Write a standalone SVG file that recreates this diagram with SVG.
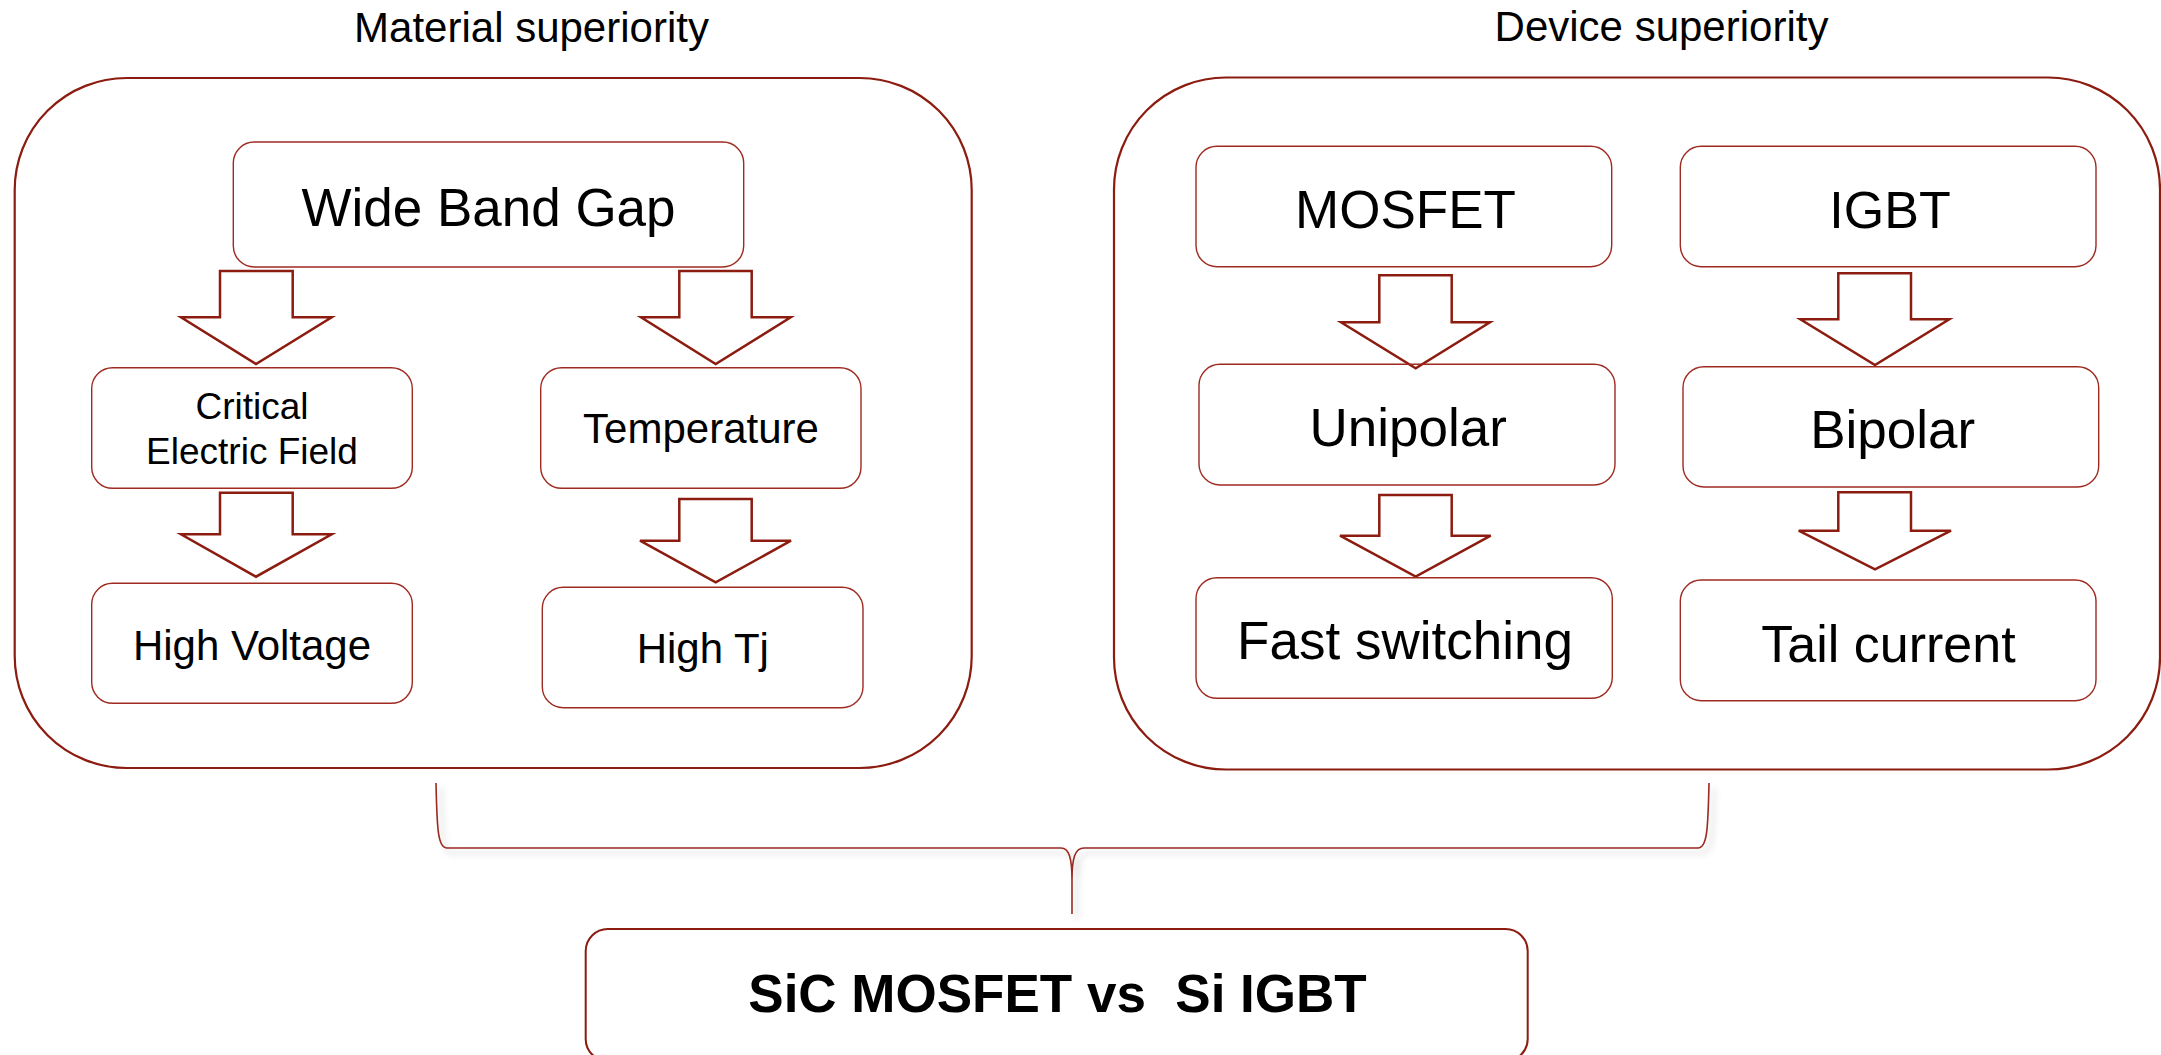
<svg xmlns="http://www.w3.org/2000/svg" width="2161" height="1055" viewBox="0 0 2161 1055">
<defs>
<style>
.t{font-family:"Liberation Sans",Arial,sans-serif;fill:#000;text-anchor:middle}
.big{fill:#fff;stroke:#8C1C10;stroke-width:2.2}
.box{fill:none;stroke:#9E2A20;stroke-width:1.4}
.arr{fill:#fff;stroke:#8C1C10;stroke-width:2.5;stroke-linejoin:miter}
.brace{fill:none;stroke:#9A2A20;stroke-width:1.6}
</style>
<filter id="sh" x="-5%" y="-20%" width="110%" height="150%">
<feDropShadow dx="5" dy="5" stdDeviation="3" flood-color="#000" flood-opacity="0.22"/>
</filter>
</defs>
<rect width="2161" height="1055" fill="#fff"/>

<g id="title-material"><text class="t" x="531.5" y="41.5" font-size="42">Material superiority</text></g>
<g id="title-device"><text class="t" x="1661.5" y="41" font-size="42">Device superiority</text></g>

<g id="group-material"><rect class="big" x="14.7" y="78" width="957" height="690" rx="112" ry="112"/></g>
<g id="group-device"><rect class="big" x="1114" y="77.5" width="1046" height="692" rx="112" ry="112"/></g>

<g id="connectors">
<polygon class="arr" points="220,271 292.7,271 292.7,317.3 331.7,317.3 256,364 181,317.3 220,317.3"/>
<polygon class="arr" points="220,492.7 292.7,492.7 292.7,534.3 331.7,534.3 256,576.7 181,534.3 220,534.3"/>
<polygon class="arr" points="679.3,271 751.7,271 751.7,317.3 790.7,317.3 715.7,364 641,317.3 679.3,317.3"/>
<polygon class="arr" points="679.3,499 751.7,499 751.7,540.7 791,540.7 715.7,582.3 640,540.7 679.3,540.7"/>
<polygon class="arr" points="1379.3,275.3 1451.7,275.3 1451.7,322.3 1490,322.3 1415.7,368.3 1341,322.3 1379.3,322.3"/>
<polygon class="arr" points="1379.3,495 1451.7,495 1451.7,535.7 1490.7,535.7 1415.7,576.7 1340,535.7 1379.3,535.7"/>
<polygon class="arr" points="1838.3,273.3 1911,273.3 1911,319.3 1949.3,319.3 1875,365 1800.3,319.3 1838.3,319.3"/>
<polygon class="arr" points="1838.3,492.3 1911,492.3 1911,530.7 1951,530.7 1875,569.3 1798.7,530.7 1838.3,530.7"/>
<path class="brace" filter="url(#sh)" d="M436,783 C437,830 438,848 447,848 L1061,848 C1069,848 1072,858 1072,880 L1072,914 M1709,783 C1708,830 1707,848 1698,848 L1084,848 C1075,848 1072,858 1072,880"/>
</g>

<g id="node-wbg"><rect class="box" x="233.3" y="142" width="510.4" height="125" rx="21"/><text class="t" x="488.5" y="226" font-size="53">Wide Band Gap</text></g>
<g id="node-critical"><rect class="box" x="91.7" y="367.7" width="320.6" height="120.6" rx="21"/><text class="t" x="252" y="419.3" font-size="37">Critical</text><text class="t" x="252" y="464.3" font-size="37">Electric Field</text></g>
<g id="node-highvoltage"><rect class="box" x="91.7" y="583.3" width="320.6" height="120" rx="21"/><text class="t" x="252" y="660" font-size="42">High Voltage</text></g>
<g id="node-temperature"><rect class="box" x="540.7" y="367.7" width="320.3" height="120.6" rx="21"/><text class="t" x="701" y="443.3" font-size="42">Temperature</text></g>
<g id="node-hightj"><rect class="box" x="542.3" y="587.3" width="320.7" height="120.4" rx="21"/><text class="t" x="702.8" y="663.3" font-size="42">High Tj</text></g>
<g id="node-mosfet"><rect class="box" x="1196" y="146.3" width="415.7" height="120.4" rx="21"/><text class="t" x="1405.5" y="228.3" font-size="53">MOSFET</text></g>
<g id="node-igbt"><rect class="box" x="1680.3" y="146.3" width="415.7" height="120.4" rx="21"/><text class="t" x="1890" y="228.3" font-size="52">IGBT</text></g>
<g id="node-unipolar"><rect class="box" x="1199" y="364.3" width="416" height="120.7" rx="21"/><text class="t" x="1408.3" y="445.7" font-size="53">Unipolar</text></g>
<g id="node-bipolar"><rect class="box" x="1683" y="366.7" width="415.7" height="120.3" rx="21"/><text class="t" x="1892.7" y="448.3" font-size="53">Bipolar</text></g>
<g id="node-fast"><rect class="box" x="1196" y="577.7" width="416.3" height="120.6" rx="21"/><text class="t" x="1405" y="659.3" font-size="53">Fast switching</text></g>
<g id="node-tail"><rect class="box" x="1680.3" y="580" width="415.7" height="120.7" rx="21"/><text class="t" x="1888.5" y="662.3" font-size="52">Tail current</text></g>
<g id="node-result"><rect x="585.7" y="929" width="942" height="132" rx="22" fill="none" stroke="#8C1C10" stroke-width="2"/><text class="t" x="1057.5" y="1012.3" font-size="53" font-weight="bold" xml:space="preserve">SiC MOSFET vs  Si IGBT</text></g>
</svg>
